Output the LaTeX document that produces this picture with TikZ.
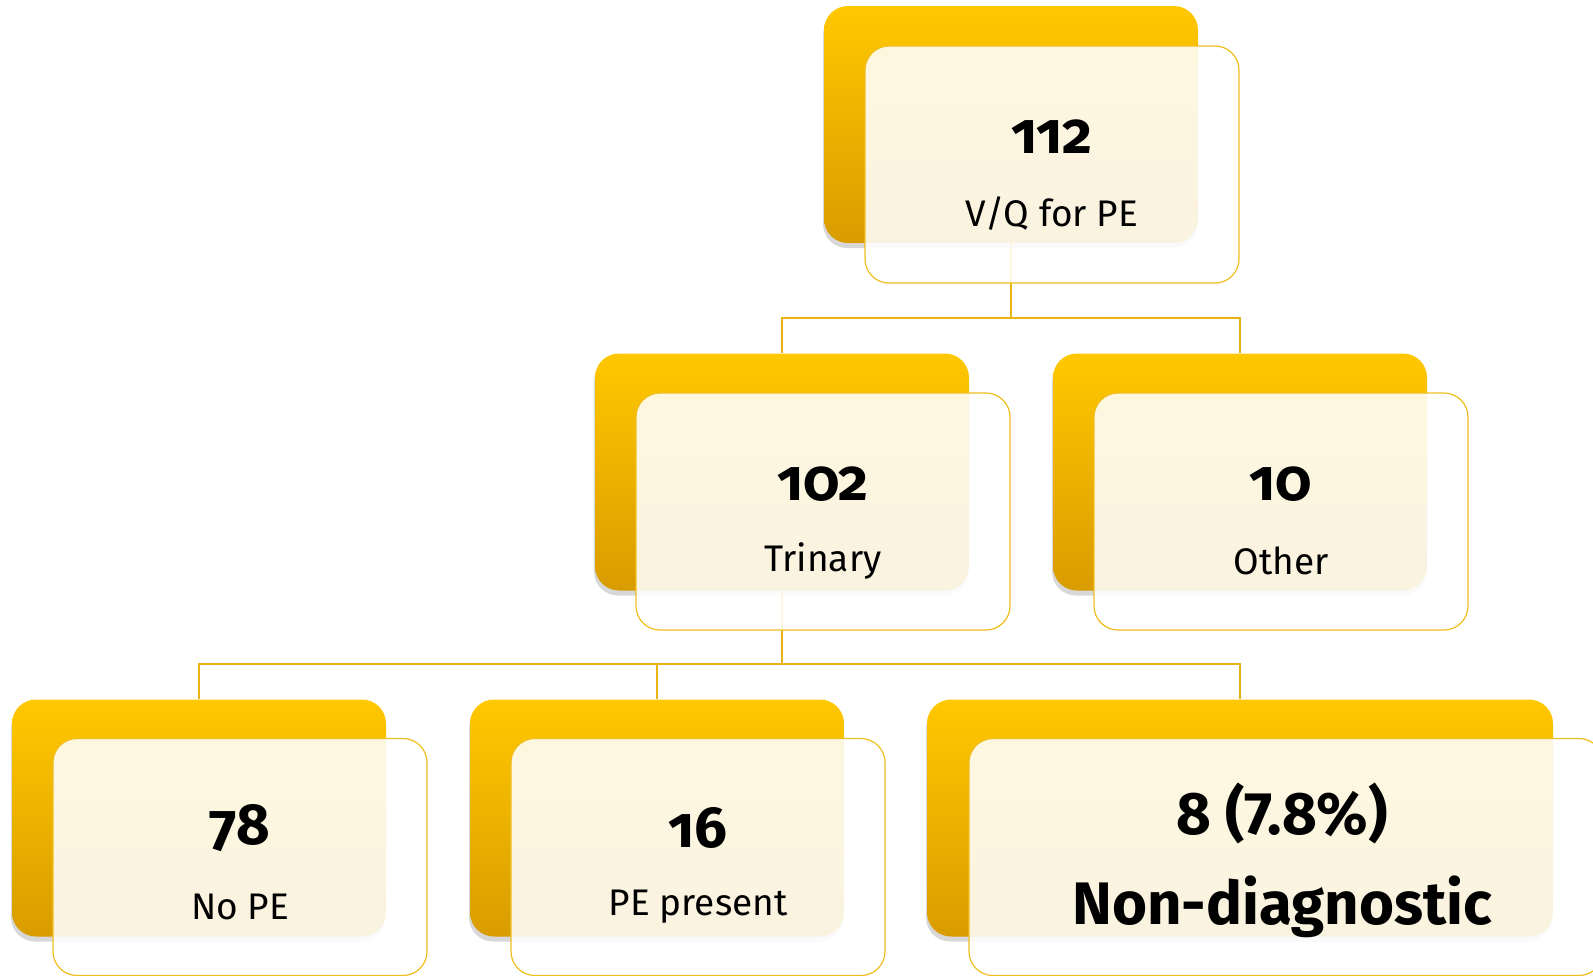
\documentclass[tikz,border=0pt]{standalone}
\usepackage{fontspec}
\setmainfont{Fira Sans}
\newfontfamily\numfont[Numbers=OldStyle]{Fira Sans}
\usetikzlibrary{shadows}
\definecolor{goldtop}{RGB}{255,200,0}
\definecolor{goldbot}{RGB}{217,156,0}
\definecolor{goldline}{RGB}{232,180,20}
\definecolor{frontline}{RGB}{240,190,30}
\tikzset{
  backbox/.style={rounded corners=24pt, top color=goldtop, bottom color=goldbot, draw=none,
    drop shadow={shadow xshift=-1pt, shadow yshift=-5pt, opacity=0.22, fill=black!70}},
  frontbox/.style={rounded corners=24pt, fill=white, fill opacity=0.88, draw=frontline, line width=1.2pt},
  conn/.style={draw=goldline, line width=1.4pt},
  numtext/.style={font=\numfont\bfseries\fontsize{58}{60}\selectfont, inner sep=0pt},
  labtext/.style={font=\fontsize{37}{40}\selectfont, inner sep=0pt},
  bigtext/.style={font=\bfseries\fontsize{60}{62}\selectfont, inner sep=0pt},
}
\begin{document}
\begin{tikzpicture}[x=1pt,y=-1pt]
\useasboundingbox (0,0) rectangle (1593,975);
% junction coordinates
\coordinate (j1) at (1011,318);
\coordinate (j2) at (782,664);
% back boxes
\node[backbox, minimum width=374pt, minimum height=237pt] (b1) at (1011,124.5) {};
\node[backbox, minimum width=374pt, minimum height=237pt] (b2) at (782,472) {};
\node[backbox, minimum width=374pt, minimum height=237pt] (b3) at (1240,472) {};
\node[backbox, minimum width=374pt, minimum height=237pt] (b4) at (199,818) {};
\node[backbox, minimum width=374pt, minimum height=237pt] (b5) at (657,818) {};
\node[backbox, minimum width=626pt, minimum height=237pt] (b6) at (1240,818) {};
% connectors
\draw[conn] (b1.south) -- (j1);
\draw[conn] (j1) -| (b2.north);
\draw[conn] (j1) -| (b3.north);
\draw[conn] (b2.south) -- (j2);
\draw[conn] (j2) -| (b4.north);
\draw[conn] (j2) -| (b5.north);
\draw[conn] (j2) -| (b6.north);
% front boxes
\node[frontbox, minimum width=374pt, minimum height=237pt] (f1) at (1052,164.5) {};
\node[frontbox, minimum width=374pt, minimum height=237pt] (f2) at (823,511.5) {};
\node[frontbox, minimum width=374pt, minimum height=237pt] (f3) at (1281,511.5) {};
\node[frontbox, minimum width=374pt, minimum height=237pt] (f4) at (240,857) {};
\node[frontbox, minimum width=374pt, minimum height=237pt] (f5) at (698,857) {};
\node[frontbox, minimum width=634pt, minimum height=237pt] (f6) at (1286,857) {};
% texts
\node[numtext] (n1) at (1052,137) {112};
\node[labtext] (l1) at (1052,213) {V/Q for PE};
\node[numtext] (n2) at (823,484) {102};
\node[labtext] (l2) at (823,561) {Trinary};
\node[numtext] (n3) at (1281,484) {10};
\node[labtext] (l3) at (1281,561) {Other};
\node[numtext] (n4) at (240,828) {78};
\node[labtext] (l4) at (240,907) {No PE};
\node[numtext] (n5) at (698,828) {16};
\node[labtext] (l5) at (698,907) {PE present};
\node[bigtext] (n6) at (1282,813) {8 (7.8\%)};
\node[bigtext] (l6) at (1282,907) {Non-diagnostic};
\end{tikzpicture}
\end{document}
